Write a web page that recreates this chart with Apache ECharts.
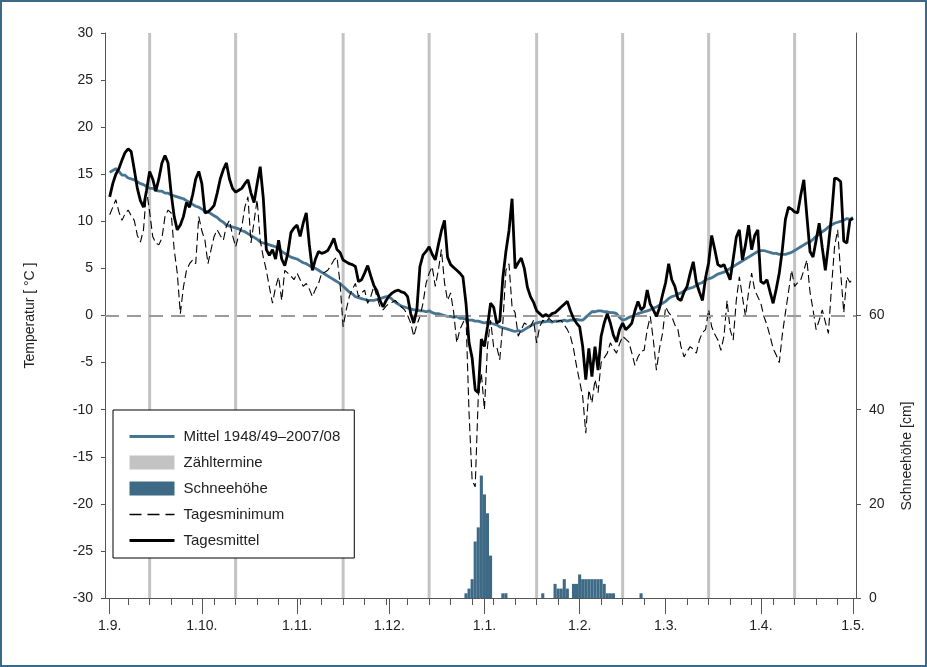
<!DOCTYPE html>
<html>
<head>
<meta charset="utf-8">
<script src="https://cdn.jsdelivr.net/npm/echarts@6/dist/echarts.min.js"></script>
<style>
  html, body { margin: 0; padding: 0; background: #fff; }
  #wrap { position: relative; width: 927px; height: 667px; }
  #chart { position: absolute; left: 0; top: 0; width: 927px; height: 667px; }
  #frame { position: absolute; left: 0; top: 0; width: 927px; height: 667px; box-sizing: border-box;
           border: 2px solid #3b6a88; pointer-events: none; }
</style>
</head>
<body>
<div id="wrap"><div id="chart"></div><div id="frame"></div></div>
<script>
// Tage ab 1.9. (Tag 0) bis 1.5. (Tag 242)
var monthStarts = [0, 30, 61, 91, 122, 153, 181, 212, 242];
var monthLabels = ['1.9.', '1.10.', '1.11.', '1.12.', '1.1.', '1.2.', '1.3.', '1.4.', '1.5.'];

// Zähltermine (Tag-Index)
var zaehltermine = [13, 41, 76, 104, 139, 167, 195, 223];

// Schneehöhe [cm]
var schneeTage = [116, 117, 118, 119, 120, 121, 122, 123, 124, 128, 129, 141,
  145, 146, 147, 148, 149, 151, 152, 153, 154, 155, 156, 157, 158, 159, 160, 161, 162, 163, 164, 173];
var schneeCm = [1, 2, 4, 12, 15, 26, 22, 18, 9, 1, 1, 1,
  3, 2, 2, 4, 2, 3, 3, 5, 4, 4, 4, 4, 4, 4, 4, 3, 1, 1, 1, 1];

// Mittel 1948/49–2007/08
var mittel = [
  15.2, 15.4, 15.6, 15.3, 14.9, 14.9, 14.6, 14.5, 14.4, 14.2,
  14.0, 13.9, 13.7, 13.5, 13.5, 13.3, 13.2, 13.2, 13.0, 13.0,
  12.8, 12.7, 12.6, 12.5, 12.4, 12.2, 12.0, 11.8, 11.6, 11.5,
  11.3, 11.1, 11.0, 10.8, 10.6, 10.4, 10.1, 9.9, 9.6, 9.5,
  9.4, 9.3, 9.2, 9.0, 8.9, 8.7, 8.5, 8.3, 8.1, 7.8,
  7.7, 7.6, 7.5, 7.4, 7.3, 7.1, 6.8, 6.6, 6.4, 6.2,
  6.1, 6.0, 5.8, 5.6, 5.5, 5.3, 5.1, 5.0, 4.8, 4.6,
  4.4, 4.2, 4.0, 3.8, 3.6, 3.4, 3.1, 2.8, 2.5, 2.3,
  2.0, 1.9, 1.8, 1.7, 1.6, 1.6, 1.6, 1.7, 1.8, 1.9,
  2.0, 2.0, 1.7, 1.4, 1.2, 1.0, 0.9, 0.8, 0.7, 0.6,
  0.6, 0.5, 0.5, 0.4, 0.5, 0.3, 0.2, 0.2, 0.1, 0.0,
  -0.1, -0.1, -0.2, -0.1, -0.3, -0.3, -0.4, -0.5, -0.5, -0.6,
  -0.6, -0.7, -0.8, -0.7, -0.8, -0.9, -1.0, -1.2, -1.3, -1.4,
  -1.5, -1.6, -1.7, -1.6, -1.7, -1.5, -1.3, -1.1, -0.9, -0.8,
  -0.7, -0.7, -0.65, -0.6, -0.7, -0.6, -0.6, -0.6, -0.5, -0.6,
  -0.5, -0.5, -0.4, -0.5, -0.5, -0.2, 0.1, 0.4, 0.4, 0.5,
  0.5, 0.4, 0.4, 0.3, 0.3, 0.2, -0.2, -0.5, -0.4, -0.2,
  -0.1, 0.0, 0.2, 0.3, 0.4, 0.5, 0.6, 0.8, 0.9, 1.1,
  1.3, 1.5, 1.8, 2.0, 2.1, 2.3, 2.4, 2.6, 2.8, 2.9,
  3.0, 3.2, 3.4, 3.5, 3.8, 3.9, 4.0, 4.2, 4.4, 4.5,
  4.6, 4.8, 5.0, 5.2, 5.4, 5.6, 5.8, 6.0, 6.2, 6.4,
  6.6, 6.8, 6.9, 6.9, 6.8, 6.7, 6.6, 6.6, 6.5, 6.5,
  6.5, 6.6, 6.7, 6.9, 7.1, 7.3, 7.5, 7.7, 7.8, 8.1,
  8.4, 8.6, 8.9, 9.1, 9.4, 9.6, 9.8, 9.9, 10.0, 10.1,
  10.3, 10.2, 10.4
];

// Tagesminimum 2008/09
var tagesminimum = [
  10.7, 11.5, 12.3, 11.0, 10.1, 10.8, 11.2, 10.6, 10.1, 8.5,
  7.8, 9.1, 13.3, 11.0, 8.4, 7.7, 7.5, 8.2, 10.5, 11.2,
  10.9, 7.0, 4.5, 0.2, 3.0, 4.8, 5.5, 5.9, 5.5, 10.5,
  9.0, 8.0, 5.5, 7.0, 8.4, 9.1, 8.5, 8.0, 9.5, 10.1,
  8.5, 7.3, 8.5, 9.4, 11.5, 12.6, 7.7, 10.0, 12.3, 8.0,
  6.2, 4.8, 3.0, 1.3, 3.0, 4.1, 1.6, 4.8, 4.5, 4.2,
  3.8, 4.5, 3.8, 3.1, 3.4, 2.8, 2.0, 2.8, 3.4, 4.5,
  4.6, 4.8, 5.3, 5.9, 6.2, 3.4, -1.2, 0.6, 2.0, 2.8,
  3.4, 2.0, 2.4, 2.7, 1.3, 2.0, 3.1, 2.0, 0.9, 0.6,
  1.0, 1.3, 1.4, 1.6, 1.2, 0.9, 0.6, 0.0, -0.8, -2.2,
  -1.0, -0.1, 1.3, 3.4, 4.5, 5.2, 3.1, 4.8, 7.0, 3.5,
  1.6, 2.4, 0.3, -2.9, -1.5, -0.8, -0.1, -10.4, -17.5, -18.2,
  -8.6, -6.1, -10.0, -3.3, -0.5, -3.3, -3.3, -4.7, -0.8, 4.8,
  5.5, 0.9, 0.3, -2.2, -1.5, -0.8, -1.0, -1.2, -0.5, -2.9,
  -1.2, -0.5, -0.7, -0.3, -0.6, -0.8, -0.6, -0.5, -1.0, -1.5,
  -2.2, -3.5, -5.4, -7.0, -8.6, -12.5, -7.9, -9.3, -6.8, -8.2,
  -5.0, -4.5, -4.0, -2.9, -3.5, -4.0, -3.0, -2.2, -2.5, -2.8,
  -4.0, -5.3, -4.4, -3.8, -3.7, -1.5, -0.1, -2.6, -5.8, -3.5,
  -1.9, 0.9, 0.3, -0.1, -1.0, -1.5, -3.3, -4.4, -3.8, -3.3,
  -3.6, -4.0, -2.6, -1.8, -1.5, 0.6, -1.2, -2.0, -2.6, -3.7,
  -2.2, 1.6, -1.5, -2.6, 1.6, 4.1, 2.0, -0.1, 2.5, 4.5,
  2.7, 2.0, 1.3, -0.1, -1.0, -2.2, -3.5, -4.2, -5.0, -2.0,
  0.3, 2.5, 4.8, 3.1, 3.5, 3.8, 4.8, 5.9, 2.5, 0.6,
  -1.5, -0.5, 0.6, -0.7, -1.9, 3.0, 7.3, 9.1, 4.5, 0.3,
  4.1, 3.5, 4.0
];

// Tagesmittel 2008/09
var tagesmittel = [
  12.6, 14.0, 15.0, 15.6, 16.5, 17.3, 17.7, 17.4, 15.5, 13.5,
  12.2, 11.5, 13.3, 15.3, 14.5, 13.2, 14.5, 16.2, 17.0, 16.2,
  13.0, 10.5, 9.1, 9.6, 10.5, 12.0, 11.5, 12.8, 14.5, 15.3,
  14.0, 10.9, 11.0, 11.3, 11.7, 13.0, 14.5, 15.5, 16.2, 14.5,
  13.5, 13.1, 13.3, 13.5, 14.0, 14.4, 13.0, 12.0, 14.0, 15.8,
  12.5, 7.0, 6.4, 7.0, 6.0, 8.0, 6.0, 5.3, 6.6, 8.8,
  9.3, 9.6, 8.4, 9.8, 10.9, 7.5, 4.8, 6.0, 6.8, 6.6,
  6.7, 6.9, 7.5, 8.2, 7.0, 6.7, 5.9, 5.7, 5.5, 5.4,
  5.2, 3.6, 3.8, 4.5, 5.3, 4.2, 3.2, 2.6, 1.6, 0.9,
  1.6, 2.1, 2.4, 2.6, 2.7, 2.5, 2.4, 2.0, 0.2, -0.8,
  0.6, 5.2, 6.4, 6.8, 7.3, 6.5, 5.9, 7.5, 9.0, 10.1,
  6.2, 5.4, 5.1, 4.8, 4.5, 4.1, 1.3, -2.9, -4.5, -7.9,
  -8.2, -2.5, -3.3, -1.2, 1.3, 0.9, -0.8, -0.6, 4.0, 6.8,
  9.0, 12.4, 5.0, 5.6, 6.1, 5.0, 3.0, 2.0, 1.4, 0.5,
  0.2, -0.1, 0.1, -0.1, 0.2, 0.3, 0.6, 0.9, 1.2, 1.5,
  0.5, -0.3, -0.8, -1.2, -3.3, -6.8, -3.5, -6.5, -3.3, -5.8,
  -2.2, -0.8, 0.2, -0.8, -2.1, -2.8, -1.5, -0.8, -1.5, -1.2,
  -0.8, 0.5, 1.5, 0.6, 0.9, 2.7, 1.2, 0.6, -0.1, 0.8,
  2.2, 3.5, 5.5, 3.8, 3.1, 1.8, 1.6, 2.5, 3.1, 4.5,
  5.7, 3.5, 2.5, 1.6, 4.0, 5.6, 8.5, 7.0, 5.4, 5.2,
  5.4, 4.6, 3.8, 6.0, 8.3, 9.1, 5.9, 7.5, 9.6, 7.0,
  8.5, 9.1, 3.6, 3.4, 3.8, 2.5, 1.3, 2.8, 4.5, 7.0,
  10.2, 11.5, 11.3, 11.0, 10.9, 12.8, 14.4, 10.5, 6.8, 6.2,
  8.0, 9.8, 7.2, 4.8, 7.5, 10.5, 14.6, 14.5, 14.2, 7.9,
  7.7, 10.1, 10.3
];

var tempTicks = [30, 25, 20, 15, 10, 5, 0, -5, -10, -15, -20, -25, -30];
var snowTicks = [0, 20, 40, 60];

var FONT = "'Liberation Sans', Arial, sans-serif";
var TXT = '#222';
var AX = '#555';

function pairs(arr) {
  return arr.map(function (v, i) { return [i, v]; });
}

var weekTicks = [];
for (var d = 6; d <= 242; d += 7) weekTicks.push(d);

var snowData = schneeTage.map(function (d, i) { return [d, schneeCm[i]]; });
var zaehlData = zaehltermine.map(function (d) { return [d, 1]; });

var chart = echarts.init(document.getElementById('chart'));
var option = {
  animation: false,
  textStyle: { fontFamily: FONT },
  grid: { left: 105, right: 71, top: 33, bottom: 69 },
  legend: {
    orient: 'vertical',
    left: 113,
    top: 410,
    backgroundColor: '#fff',
    borderColor: '#000',
    borderWidth: 1,
    borderRadius: 0,
    padding: [19, 14, 10, 15],
    itemGap: 11,
    itemWidth: 45,
    itemHeight: 14,
    textStyle: { fontSize: 15, color: TXT, fontFamily: FONT, padding: [0, 0, 0, 4] },
    data: [
      { name: 'Mittel 1948/49–2007/08', itemStyle: { opacity: 0 }, lineStyle: { width: 3 } },
      { name: 'Zähltermine', icon: 'rect' },
      { name: 'Schneehöhe', icon: 'rect' },
      { name: 'Tagesminimum', itemStyle: { opacity: 0 }, lineStyle: { width: 1.5, type: [12, 6] } },
      { name: 'Tagesmittel', itemStyle: { opacity: 0 }, lineStyle: { width: 3 } }
    ]
  },
  xAxis: [{
    type: 'value',
    min: -1.53,
    max: 242.98,
    position: 'bottom',
    splitLine: { show: false },
    axisLine: { show: true, onZero: false, lineStyle: { color: AX, width: 1 } },
    axisTick: { show: true, customValues: weekTicks, length: 7, lineStyle: { color: AX } },
    axisLabel: { show: false }
  }, {
    type: 'value',
    min: -1.53,
    max: 242.98,
    position: 'bottom',
    splitLine: { show: false },
    axisLine: { show: false, onZero: false },
    axisTick: { show: true, customValues: monthStarts, length: 16, lineStyle: { color: AX } },
    axisLabel: {
      show: true,
      customValues: monthStarts,
      fontSize: 14,
      color: TXT,
      margin: 21,
      formatter: function (v) {
        var k = monthStarts.indexOf(Math.round(v));
        return k >= 0 ? monthLabels[k] : '';
      }
    }
  }],
  yAxis: [{
    type: 'value',
    min: -30,
    max: 30,
    interval: 5,
    position: 'left',
    name: 'Temperatur [ °C ]',
    nameLocation: 'middle',
    nameGap: 68,
    nameTextStyle: { fontSize: 14, color: TXT },
    splitLine: { show: false },
    axisLine: { show: true, onZero: false, lineStyle: { color: AX } },
    axisTick: { show: true, length: 4, lineStyle: { color: AX } },
    axisLabel: { fontSize: 14, color: TXT, margin: 12 }
  }, {
    type: 'value',
    min: 0,
    max: 120,
    position: 'right',
    splitLine: { show: false },
    axisLine: { show: true, onZero: false, lineStyle: { color: AX } },
    axisTick: { show: true, customValues: snowTicks, length: 5, lineStyle: { color: AX } },
    axisLabel: { customValues: snowTicks, fontSize: 14, color: TXT, margin: 13 }
  }, {
    type: 'value',
    min: 0,
    max: 1,
    show: false
  }],
  graphic: [{
    type: 'text',
    x: 907,
    y: 456,
    rotation: Math.PI / 2,
    style: {
      text: 'Schneehöhe [cm]',
      fontSize: 14,
      fontFamily: FONT,
      fill: TXT,
      align: 'center',
      verticalAlign: 'middle'
    }
  }],
  series: [{
    name: 'Zähltermine',
    type: 'bar',
    xAxisIndex: 1,
    yAxisIndex: 2,
    barWidth: 3,
    itemStyle: { color: '#c3c3c3' },
    data: zaehlData,
    z: 1
  }, {
    name: 'Schneehöhe',
    type: 'bar',
    xAxisIndex: 0,
    yAxisIndex: 1,
    barWidth: 3.1,
    itemStyle: { color: '#3e6a86' },
    data: snowData,
    z: 2
  }, {
    name: 'Mittel 1948/49–2007/08',
    type: 'line',
    xAxisIndex: 0,
    yAxisIndex: 0,
    symbol: 'none',
    lineStyle: { color: '#467591', width: 2.8 },
    itemStyle: { color: '#467591' },
    data: pairs(mittel),
    markLine: {
      silent: true,
      symbol: 'none',
      label: { show: false },
      lineStyle: { color: '#9a9a9a', width: 2, type: [14, 8] },
      data: [{ yAxis: 0 }]
    },
    z: 3
  }, {
    name: 'Tagesminimum',
    type: 'line',
    xAxisIndex: 0,
    yAxisIndex: 0,
    symbol: 'none',
    lineStyle: { color: '#000', width: 1.1, type: [8, 4] },
    itemStyle: { color: '#000' },
    data: pairs(tagesminimum),
    z: 4
  }, {
    name: 'Tagesmittel',
    type: 'line',
    xAxisIndex: 0,
    yAxisIndex: 0,
    symbol: 'none',
    lineStyle: { color: '#000', width: 2.8 },
    itemStyle: { color: '#000' },
    data: pairs(tagesmittel),
    z: 5
  }]
};
chart.setOption(option);
</script>
</body>
</html>
